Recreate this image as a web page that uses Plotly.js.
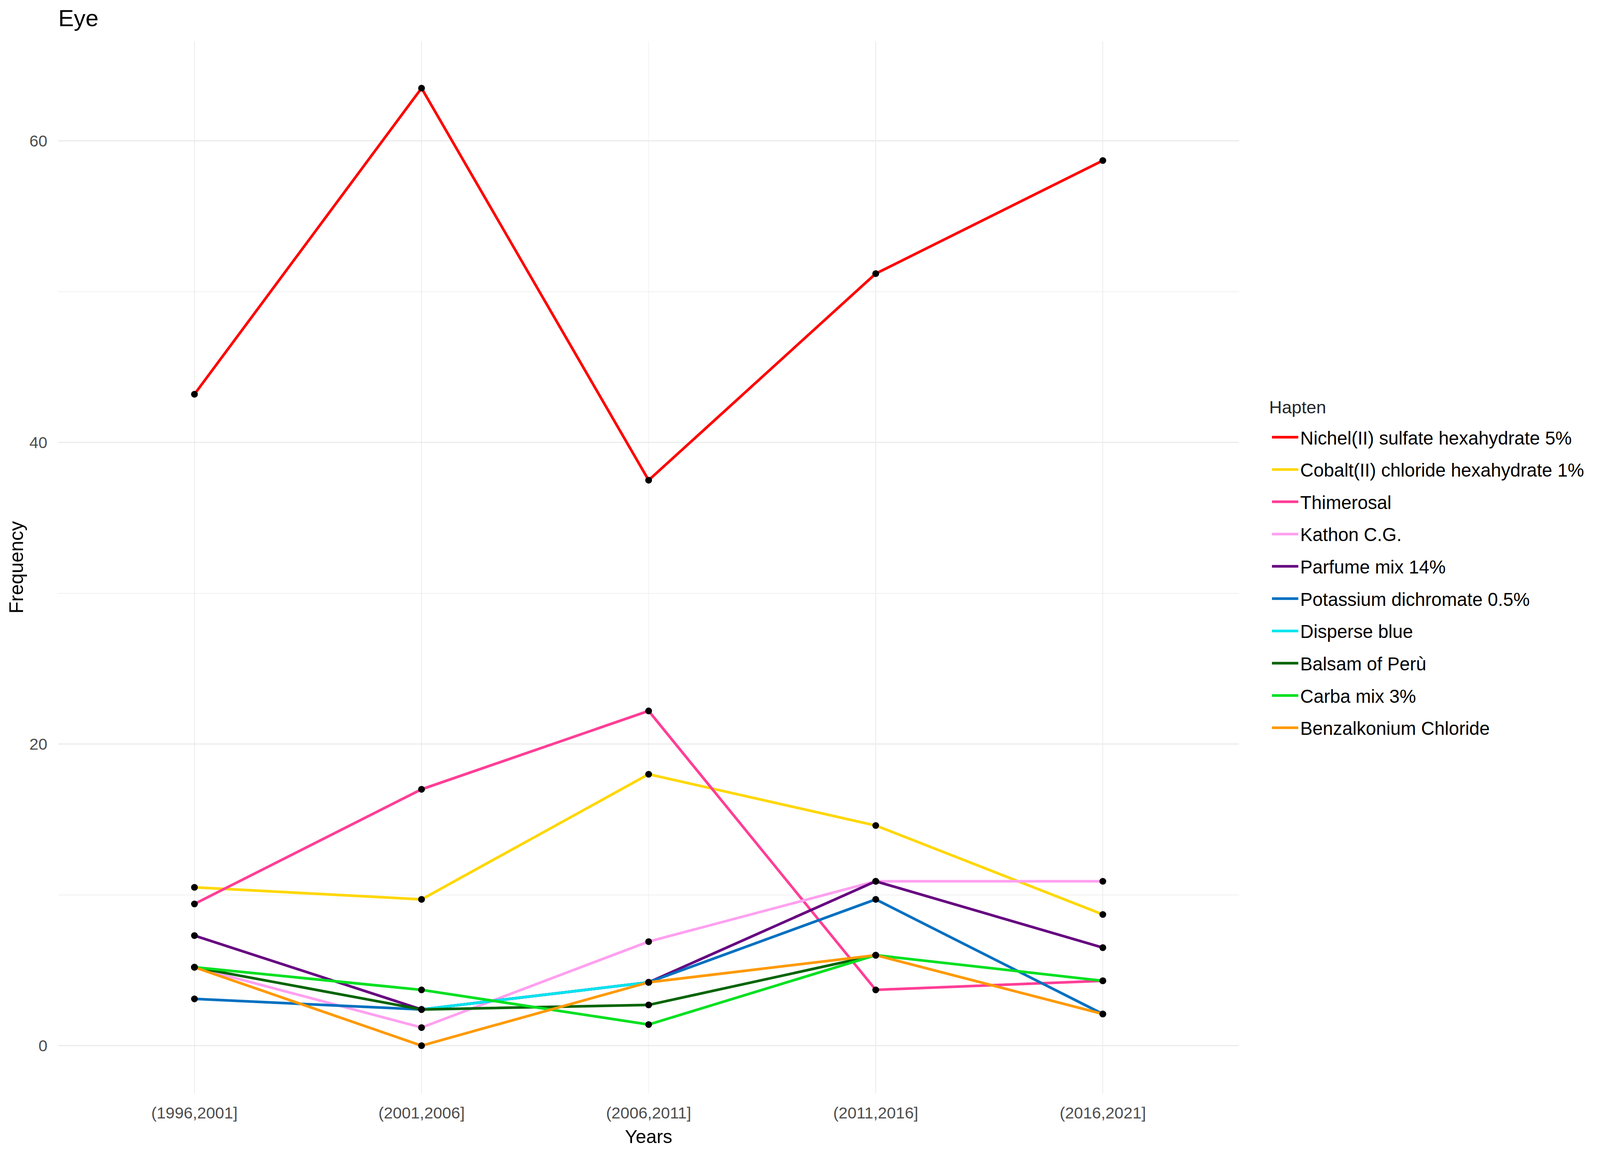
<!DOCTYPE html>
<html>
<head>
<meta charset="utf-8">
<script src="https://cdn.plot.ly/plotly-3.0.1.min.js"></script>
<style>html,body{margin:0;padding:0;background:#fff;overflow:hidden;}#chart{position:absolute;left:0;top:0;}</style>
</head>
<body>
<div id="chart"></div>
<script>
const periods = ["(1996,2001]", "(2001,2006]", "(2006,2011]", "(2011,2016]", "(2016,2021]"];

const haptens = [
  "Nichel(II) sulfate hexahydrate 5%",
  "Cobalt(II) chloride hexahydrate 1%",
  "Thimerosal",
  "Kathon C.G.",
  "Parfume mix 14%",
  "Potassium dichromate 0.5%",
  "Disperse blue",
  "Balsam of Perù",
  "Carba mix 3%",
  "Benzalkonium Chloride"
];

const nichel       = [43.2, 63.5, 37.5, 51.2, 58.7];
const cobalt       = [10.5, 9.7, 18.0, 14.6, 8.7];
const thimerosal   = [9.4, 17.0, 22.2, 3.7, 4.3];
const kathon       = [5.2, 1.2, 6.9, 10.9, 10.9];
const parfume      = [7.3, 2.4, 4.2, 10.9, 6.5];
const potassium    = [3.1, 2.4, 4.2, 9.7, 2.1];
const disperseBlue = [null, 2.4, 4.2, null, null];
const balsam       = [5.2, 2.4, 2.7, 6.0, null];
const carba        = [5.2, 3.7, 1.4, 6.0, 4.3];
const benzalkonium = [5.2, 0.0, 4.2, 6.0, 2.1];

const seriesValues = [nichel, cobalt, thimerosal, kathon, parfume, potassium, disperseBlue, balsam, carba, benzalkonium];
const colors = ["#ff0000", "#ffd700", "#ff3e96", "#ffa0f0", "#660080", "#0070c0", "#00e5ee", "#006400", "#00e020", "#ff9900"];

const FONT = "Liberation Sans, Arial, Helvetica, sans-serif";

// fit the design (made for 4253 x 2954) to the actual viewport
const W = window.innerWidth || 4253;
const H = window.innerHeight || 2954;
const sx = W / 4253, sy = H / 2954, s = Math.min(sx, sy);

const traces = [];
seriesValues.forEach((vals, i) => {
  traces.push({
    type: "scatter",
    mode: "lines",
    x: periods,
    y: vals,
    name: haptens[i],
    legendgroup: "g" + i,
    line: {color: colors[i], width: 7 * s},
    connectgaps: false,
    hoverinfo: "x+y+name"
  });
});
seriesValues.forEach((vals, i) => {
  traces.push({
    type: "scatter",
    mode: "markers",
    x: periods,
    y: vals,
    name: haptens[i],
    legendgroup: "g" + i,
    showlegend: false,
    marker: {color: "#000000", size: 18 * s},
    hoverinfo: "skip"
  });
});

const layout = {
  width: W,
  height: H,
  paper_bgcolor: "#ffffff",
  plot_bgcolor: "#ffffff",
  margin: {l: 155 * sx, r: 959 * sx, t: 106 * sy, b: 155 * sy, pad: 0},
  font: {family: FONT, color: "#4d4d4d"},
  title: {
    text: "Eye",
    font: {family: FONT, size: 62 * s, color: "#000000"},
    xref: "container", x: 155 / 4253, xanchor: "left",
    yref: "container", y: 1 - 46 / 2954, yanchor: "middle"
  },
  xaxis: {
    type: "category",
    categoryorder: "array",
    categoryarray: periods,
    range: [-0.6, 4.6],
    showgrid: true,
    gridcolor: "#ebebeb",
    gridwidth: 2 * s,
    zeroline: false,
    showline: false,
    ticks: "",
    ticklabelstandoff: 22 * sy,
    tickfont: {family: FONT, size: 43 * s, color: "#4d4d4d"},
    title: {text: "Years", font: {family: FONT, size: 50 * s, color: "#000000"}, standoff: 20 * sy},
    automargin: false
  },
  yaxis: {
    range: [-3.17, 66.6],
    tick0: 0,
    dtick: 20,
    showgrid: true,
    gridcolor: "#ebebeb",
    gridwidth: 3 * s,
    minor: {dtick: 10, tick0: 0, showgrid: true, gridcolor: "#f0f0f0", gridwidth: 2 * s, ticks: ""},
    zeroline: false,
    showline: false,
    ticks: "outside",
    ticklen: 19 * sx,
    tickwidth: 1,
    tickcolor: "rgba(0,0,0,0)",
    tickfont: {family: FONT, size: 43 * s, color: "#4d4d4d"},
    automargin: false
  },
  legend: {
    x: 1.0262,
    xanchor: "left",
    y: 0.6376,
    yanchor: "top",
    bgcolor: "rgba(0,0,0,0)",
    font: {family: FONT, size: 49 * s, color: "#000000"},
    traceorder: "grouped",
    tracegroupgap: 18.3 * sy,
    itemwidth: Math.max(30, 70 * s)
  },
  annotations: [
    {
      text: "Hapten",
      xref: "paper", yref: "paper",
      x: 1.0249, xanchor: "left",
      y: 0.6524, yanchor: "middle",
      showarrow: false,
      font: {family: FONT, size: 47 * s, color: "#262626"}
    },
    {
      text: "Frequency",
      xref: "paper", yref: "paper",
      x: -0.0357, xanchor: "center",
      y: 0.5, yanchor: "middle",
      textangle: -90,
      showarrow: false,
      font: {family: FONT, size: 52 * s, color: "#000000"}
    }
  ],
  showlegend: true
};

const el = document.getElementById("chart");
el.style.width = W + "px";
el.style.height = H + "px";
Plotly.newPlot(el, traces, layout, {displayModeBar: false, staticPlot: true});
</script>
</body>
</html>
